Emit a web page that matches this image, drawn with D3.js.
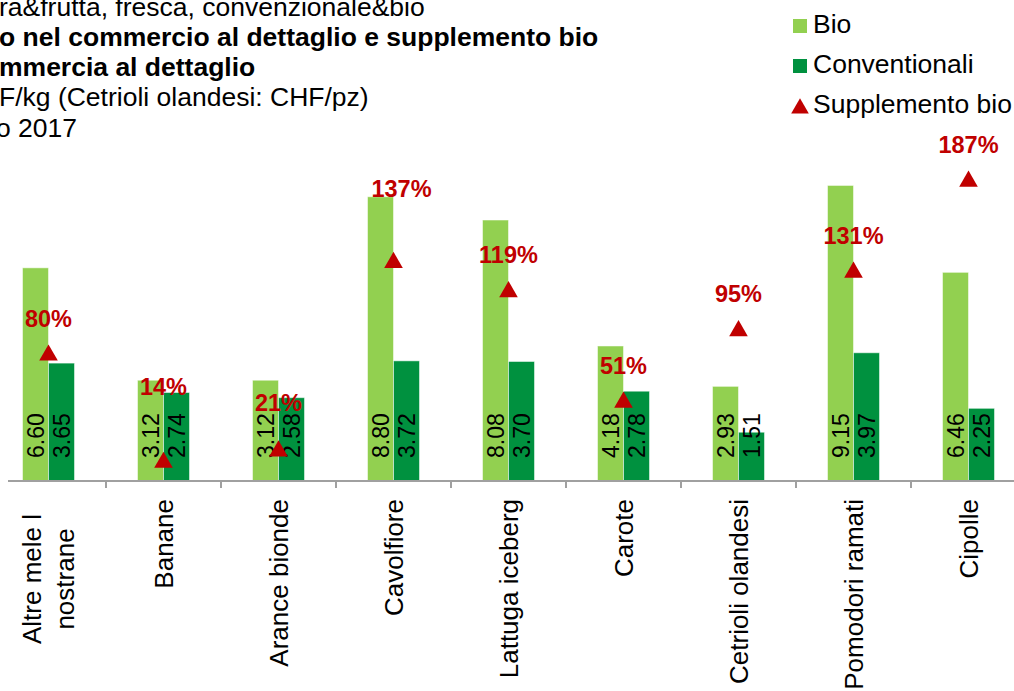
<!DOCTYPE html>
<html>
<head>
<meta charset="utf-8">
<script src="https://cdn.jsdelivr.net/npm/d3@7"></script>
<style>
  html, body { margin: 0; padding: 0; background: #fff; }
  svg { display: block; font-family: "Liberation Sans", Arial, sans-serif; }
</style>
</head>
<body>
<script>
const [width, height] = [1014, 691];

// chart values
const categories = ["Altre mele l|nostrane", "Banane", "Arance bionde", "Cavolfiore", "Lattuga iceberg",
    "Carote", "Cetrioli olandesi", "Pomodori ramati", "Cipolle"];
const bioPrices = [6.60, 3.12, 3.12, 8.80, 8.08, 4.18, 2.93, 9.15, 6.46];
const convPrices = [3.65, 2.74, 2.58, 3.72, 3.70, 2.78, 1.51, 3.97, 2.25];
const bioSupplement = [80, 14, 21, 137, 119, 51, 95, 131, 187];
const seriesNames = ["Bio", "Conventionali", "Supplemento bio"];
const titleLines = [
    {text: "ra&frutta, fresca, convenzionale&bio", bold: false},
    {text: "o nel commercio al dettaglio e supplemento bio", bold: true},
    {text: "mmercia al dettaglio", bold: true},
    {text: "F/kg (Cetrioli olandesi: CHF/pz)", bold: false},
    {text: "o 2017", bold: false},
];

// manual label moves, as in the source chart
const labelNudge = {"Banane": [0, -39], "Arance bionde": [0, -11], "Cavolfiore": [8, -37]};

const colors = {bio: "#92d050", conv: "#00913f", red: "#c00000", axis: "#a0a0a0"};

const data = categories.map((c, i) => ({
    cat: c, bio: bioPrices[i], conv: convPrices[i], pct: bioSupplement[i]
}));

const svg = d3.select("body").append("svg")
    .attr("width", width)
    .attr("height", height)
    .attr("viewBox", [0, 0, width, height]);

const axisY = 481;

const x = d3.scaleBand()
    .domain(categories)
    .range([-9, 1026]);

const xInner = d3.scaleBand()
    .domain(["bio", "conv"])
    .range([x.bandwidth() / 2 - 26, x.bandwidth() / 2 + 26]);

const y = d3.scaleLinear()
    .domain([0, 10])
    .range([axisY, 158]);

const y2 = d3.scaleLinear()
    .domain([0, 200])
    .range([axisY + 1.5, 157.5]);

// title (cut at the left edge, as in the source picture)
svg.append("g")
    .selectAll("text")
    .data(titleLines)
    .join("text")
        .attr("x", (d, i) => i === 4 ? -4 : -1)
        .attr("y", (d, i) => [16, 46, 76, 106, 137][i])
        .attr("font-size", 26.5)
        .attr("font-weight", d => d.bold ? "bold" : "normal")
        .attr("fill", "#000")
        .text(d => d.text);

// bars
const groups = svg.append("g")
    .selectAll("g")
    .data(data)
    .join("g")
        .attr("transform", d => `translate(${x(d.cat)},0)`);

groups.selectAll("rect")
    .data(d => [{k: "bio", v: d.bio}, {k: "conv", v: d.conv}])
    .join("rect")
        .attr("x", d => xInner(d.k))
        .attr("y", d => y(d.v))
        .attr("width", xInner.bandwidth())
        .attr("height", d => y(0) - y(d.v))
        .attr("fill", d => colors[d.k])
        .attr("stroke", "rgba(255,255,255,0.5)")
        .attr("stroke-width", 1);

groups.selectAll("text.val")
    .data(d => [{k: "bio", v: d.bio}, {k: "conv", v: d.conv}])
    .join("text")
        .attr("class", "val")
        .attr("transform", d => `translate(${xInner(d.k) + xInner.bandwidth() / 2 + 8},${axisY - 23}) rotate(-90)`)
        .attr("font-size", 23)
        .attr("fill", "#000")
        .text(d => d3.format(".2f")(d.v));

// axis
const xAxis = g => g
    .attr("transform", `translate(0,${axisY})`)
    .call(d3.axisBottom(x).tickSize(0).tickFormat(""))
    .call(g => g.select(".domain").attr("stroke", colors.axis).attr("stroke-width", 2)
        .attr("d", `M8,0H${width}`))
    .call(g => g.selectAll(".tick").remove());

svg.append("g").call(xAxis);

svg.append("g")
    .attr("stroke", colors.axis)
    .attr("stroke-width", 2)
    .selectAll("line")
    .data(categories.slice(1))
    .join("line")
        .attr("x1", d => x(d))
        .attr("x2", d => x(d))
        .attr("y1", axisY)
        .attr("y2", axisY + 7);

// category labels
const catLabels = svg.append("g")
    .selectAll("text")
    .data(categories)
    .join("text")
        .attr("font-size", 26)
        .attr("fill", "#000")
        .attr("transform", d => {
            const lines = d.split("|");
            const cx = x(d) + x.bandwidth() / 2;
            return lines.length > 1
                ? `translate(${cx},579) rotate(-90)`
                : `translate(${cx},499) rotate(-90)`;
        })
        .attr("text-anchor", d => d.includes("|") ? "middle" : "end");

catLabels.selectAll("tspan")
    .data(d => d.split("|").map((t, i, a) => ({t, i, n: a.length})))
    .join("tspan")
        .attr("x", 0)
        .attr("dy", d => d.i === 0 ? `${0.35 - (d.n - 1) * 0.62}em` : "1.24em")
        .text(d => d.t);

// supplement markers
const tri = d3.symbol(d3.symbolTriangle, 150);

svg.append("g")
    .selectAll("path")
    .data(data)
    .join("path")
        .attr("d", tri)
        .attr("fill", colors.red)
        .attr("transform", d => `translate(${x(d.cat) + x.bandwidth() / 2},${y2(d.pct) + 2.7})`);

svg.append("g")
    .selectAll("text")
    .data(data)
    .join("text")
        .attr("x", d => x(d.cat) + x.bandwidth() / 2 + (labelNudge[d.cat] ? labelNudge[d.cat][0] : 0))
        .attr("y", d => y2(d.pct) - 26 + (labelNudge[d.cat] ? labelNudge[d.cat][1] : 0))
        .attr("text-anchor", "middle")
        .attr("font-size", 23.5)
        .attr("font-weight", "bold")
        .attr("fill", colors.red)
        .text(d => d.pct + "%");

// legend
const legend = svg.append("g")
    .attr("transform", "translate(793,0)")
    .selectAll("g")
    .data(seriesNames)
    .join("g")
        .attr("transform", (d, i) => `translate(0,${19 + i * 40})`);

legend.filter((d, i) => i < 2).append("rect")
    .attr("width", 14)
    .attr("height", 14)
    .attr("fill", (d, i) => i === 0 ? colors.bio : colors.conv);

legend.filter((d, i) => i === 2).append("path")
    .attr("d", d3.symbol(d3.symbolTriangle, 135))
    .attr("transform", "translate(7,9.5)")
    .attr("fill", colors.red);

legend.append("text")
    .attr("x", 20)
    .attr("y", 14)
    .attr("font-size", 26.5)
    .attr("fill", "#000")
    .text(d => d);
</script>
</body>
</html>
